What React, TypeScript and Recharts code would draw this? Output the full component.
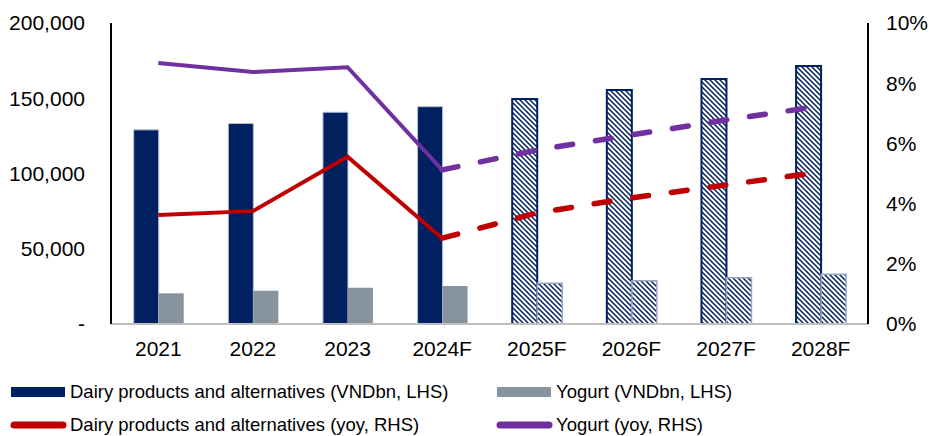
import { Bar, Cell, ComposedChart, Line, XAxis, YAxis } from "recharts";

const categories = ["2021", "2022", "2023", "2024F", "2025F", "2026F", "2027F", "2028F"];
const dairyValue = [129000, 133200, 140700, 144400, 149500, 155500, 162800, 171400];
const yogurtValue = [20400, 22100, 24100, 25200, 27000, 28800, 30800, 33000];
const dairyYoy = [3.62, 3.75, 5.56, 2.85, 3.69, 4.19, 4.62, 5.05];
const yogurtYoy = [8.67, 8.37, 8.53, 5.12, 5.78, 6.28, 6.78, 7.24];
// lines turn dashed from 2024F on, bars are hatched from 2025F on
const dashFrom = 3;
const hatchFrom = 4;

const leftTicks = [0, 50000, 100000, 150000, 200000];
const rightTicks = [0, 2, 4, 6, 8, 10];

const NAVY = "#002060";
const GREY = "#8794A0";
const RED = "#C00000";
const PURPLE = "#7030A0";

const legendRows = [
  [
    { name: "Dairy products and alternatives (VNDbn, LHS)", color: NAVY, kind: "bar" },
    { name: "Yogurt (VNDbn, LHS)", color: GREY, kind: "bar" },
  ],
  [
    { name: "Dairy products and alternatives (yoy, RHS)", color: RED, kind: "line" },
    { name: "Yogurt (yoy, RHS)", color: PURPLE, kind: "line" },
  ],
];

const data = categories.map((c, i) => ({
  year: c,
  dairy: dairyValue[i],
  yogurt: yogurtValue[i],
  dairyYoy: i <= dashFrom ? dairyYoy[i] : null,
  dairyYoyF: i >= dashFrom ? dairyYoy[i] : null,
  yogurtYoy: i <= dashFrom ? yogurtYoy[i] : null,
  yogurtYoyF: i >= dashFrom ? yogurtYoy[i] : null,
}));

const FONT = "Liberation Sans, Arial, sans-serif";
const tickFont = { fontSize: 21, fill: "#000", fontFamily: FONT };

function ChartLegend() {
  return (
    <svg width={929} height={66} style={{ position: "absolute", left: 0, top: 370 }}>
      {legendRows.map((row, r) =>
        row.map((item, c) => {
          const x = c === 0 ? 11 : 497;
          const y = r === 0 ? 22 : 55;
          return (
            <g key={item.name}>
              {item.kind === "bar" ? (
                <rect x={x} y={y - 5} width={54} height={10} fill={item.color} />
              ) : (
                <line x1={x + 3} x2={x + 52} y1={y} y2={y} stroke={item.color} strokeWidth={7} strokeLinecap="round" />
              )}
              <text x={x + 59} y={y} dy="0.35em" fontSize={18.5} fontFamily={FONT} fill="#000">
                {item.name}
              </text>
            </g>
          );
        })
      )}
    </svg>
  );
}

export default function App() {
  return (
    <div style={{ position: "absolute", left: 0, top: 0, width: 929, height: 436, background: "#fff" }}>
      <ComposedChart
        width={929}
        height={436}
        data={data}
        margin={{ top: 23, right: 0, left: 0, bottom: 72 }}
        barGap={0}
        barCategoryGap="24%"
      >
        <defs>
          <pattern id="hatch" patternUnits="userSpaceOnUse" width={5} height={5}>
            <rect width={5} height={5} fill="#fff" />
            <path d="M0,0 L5,5 M-2.5,2.5 L2.5,7.5 M2.5,-2.5 L7.5,2.5" stroke={NAVY} strokeWidth={1.5} />
          </pattern>
        </defs>
        <XAxis
          dataKey="year"
          height={40}
          axisLine={{ stroke: "#BFBFBF", strokeWidth: 2 }}
          tickLine={false}
          tickMargin={11}
          tick={tickFont}
          interval={0}
        />
        <XAxis xAxisId="top" dataKey="year" orientation="top" height={0} tick={false} tickLine={false} axisLine={{ stroke: "#000", strokeWidth: 2 }} />
        <YAxis
          yAxisId="left"
          width={111}
          domain={[0, 200000]}
          ticks={leftTicks}
          tickLine={false}
          axisLine={{ stroke: "#000", strokeWidth: 2 }}
          tickMargin={20}
          tick={tickFont}
          tickFormatter={(v) => (v === 0 ? "-" : Number(v).toLocaleString("en-US"))}
        />
        <YAxis
          yAxisId="right"
          orientation="right"
          width={61}
          domain={[0, 10]}
          ticks={rightTicks}
          tickLine={false}
          axisLine={{ stroke: "#000", strokeWidth: 2 }}
          tickMargin={12}
          tick={tickFont}
          tickFormatter={(v) => `${v}%`}
        />
        <Bar yAxisId="left" dataKey="dairy" isAnimationActive={false}>
          {data.map((d, i) => (
            <Cell
              key={d.year}
              fill={i >= hatchFrom ? "url(#hatch)" : NAVY}
              stroke={i >= hatchFrom ? NAVY : "#B4C0D4"}
              strokeWidth={i >= hatchFrom ? 2 : 1}
            />
          ))}
        </Bar>
        <Bar yAxisId="left" dataKey="yogurt" isAnimationActive={false}>
          {data.map((d, i) => (
            <Cell
              key={d.year}
              fill={i >= hatchFrom ? "url(#hatch)" : GREY}
              stroke={i >= hatchFrom ? "#9AA8C4" : "none"}
              strokeWidth={1.5}
            />
          ))}
        </Bar>
        <Line yAxisId="right" dataKey="dairyYoy" stroke={RED} strokeWidth={4} dot={false} isAnimationActive={false} />
        <Line yAxisId="right" dataKey="dairyYoyF" stroke={RED} strokeWidth={5.5} strokeDasharray="16 23" strokeLinecap="round" dot={false} isAnimationActive={false} />
        <Line yAxisId="right" dataKey="yogurtYoy" stroke={PURPLE} strokeWidth={4} dot={false} isAnimationActive={false} />
        <Line yAxisId="right" dataKey="yogurtYoyF" stroke={PURPLE} strokeWidth={5.5} strokeDasharray="16 23" strokeLinecap="round" dot={false} isAnimationActive={false} />
      </ComposedChart>
      <ChartLegend />
    </div>
  );
}
